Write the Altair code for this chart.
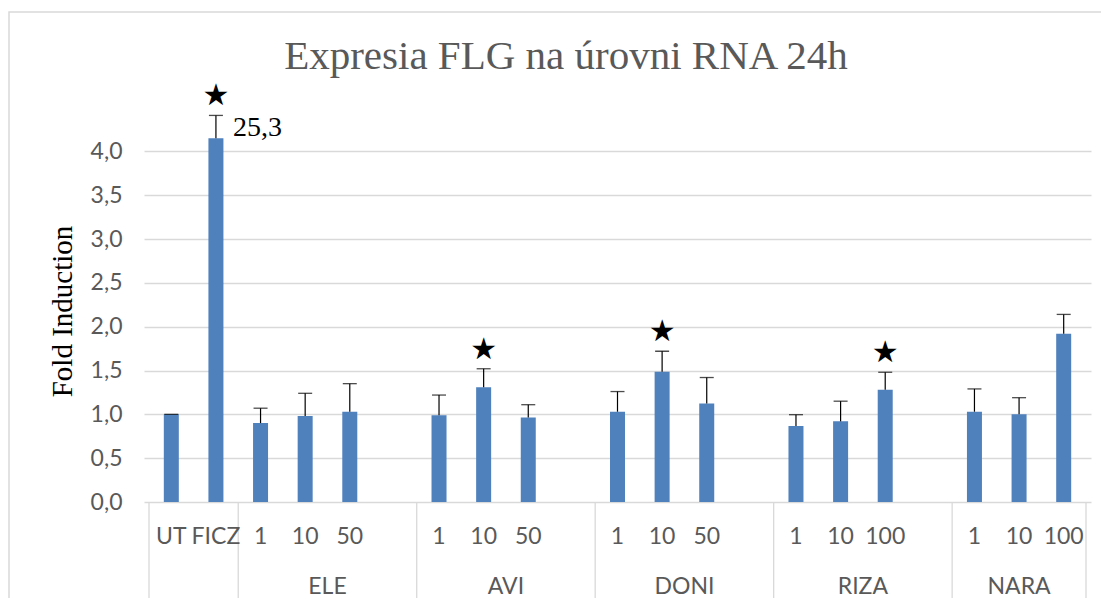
import altair as alt
import pandas as pd

# ---- data ----
title_text = "Expresia FLG na úrovni RNA 24h"
y_title = "Fold Induction"

controls = ["UT", "FICZ"]
control_means = [1.00, 4.15]
control_errs = [0.00, 0.26]

groups = ["ELE", "AVI", "DONI", "RIZA", "NARA"]
doses = [["1", "10", "50"], ["1", "10", "50"], ["1", "10", "50"],
         ["1", "10", "100"], ["1", "10", "100"]]
group_means = [[0.90, 0.98, 1.03], [0.99, 1.31, 0.965], [1.03, 1.485, 1.125],
               [0.866, 0.92, 1.28], [1.03, 1.00, 1.92]]
group_errs = [[0.17, 0.26, 0.32], [0.23, 0.21, 0.145], [0.23, 0.235, 0.295],
              [0.13, 0.23, 0.20], [0.26, 0.19, 0.22]]
# significance stars (label, group) pairs
stars = [("FICZ", ""), ("10", "AVI"), ("10", "DONI"), ("100", "RIZA")]
ficz_note = "25,3"
y_ticks = [0, 0.5, 1, 1.5, 2, 2.5, 3, 3.5, 4]

# ---- build tables (slot order follows the list order; one empty slot after each group) ----
rows = []
slot = 0
for lab, m, e in zip(controls, control_means, control_errs):
    rows.append(dict(slot=slot, label=lab, group="", mean=m, top=m + e))
    slot += 1
bounds = [-0.5, slot - 0.5]
glabels = []
for gi, (g, ds, ms, es) in enumerate(zip(groups, doses, group_means, group_errs)):
    start = slot - 0.5
    for d, m, e in zip(ds, ms, es):
        rows.append(dict(slot=slot, label=d, group=g, mean=m, top=m + e))
        slot += 1
    if gi < len(groups) - 1:
        slot += 1  # empty slot
    end = slot - 0.5
    bounds.append(end)
    glabels.append(dict(slot=(start + end) / 2, group=g))

df = pd.DataFrame(rows)
df["star"] = [(r.label, r.group) in stars for r in df.itertuples()]
df["note"] = [ficz_note if l == "FICZ" else "" for l in df["label"]]
xmax = slot - 0.5

W, H = 947, 412
YMAX = 4.7
BLUE = "#4F81BD"
GRID = "#d9d9d9"
GRAY = "#595959"

xs = alt.Scale(domain=[-0.5, xmax], nice=False, zero=False)
ys = alt.Scale(domain=[0, YMAX], nice=False)

yaxis = alt.Axis(
    values=y_ticks,
    labelExpr="replace(format(datum.value, '.1f'), '.', ',')",
    grid=True, gridColor=GRID, gridWidth=1.3,
    domain=False, ticks=False,
    labelFont="Lato", labelFontSize=23, labelColor=GRAY, labelPadding=22,
    title=y_title, titleFont="Liberation Serif", titleFontSize=29,
    titleFontWeight="normal", titleColor="black",
    titleX=-82, titleY=221, titleAlign="center", titleBaseline="middle", titleAngle=270,
)


def X(f="slot"):
    return alt.X(f"{f}:Q", scale=xs, axis=None)


def Y(f):
    return alt.Y(f"{f}:Q", scale=ys, axis=yaxis, title=y_title)


one = pd.DataFrame({"t": [title_text]})

border = alt.Chart(one).mark_rect(fillOpacity=0, stroke=GRID, strokeWidth=1.5).encode(
    x=alt.value(-135), x2=alt.value(W + 120), y=alt.value(-78), y2=alt.value(H + 130)
)

title = alt.Chart(one).mark_text(
    font="Liberation Serif", fontSize=41, color=GRAY, baseline="alphabetic", align="center"
).encode(x=alt.value(422), y=alt.value(-21), text="t:N")

bars = alt.Chart(df).mark_bar(width=15, color=BLUE).encode(x=X(), y=Y("mean"))

err = alt.Chart(df).mark_rule(color="black", strokeWidth=1.2).encode(
    x=X(), y=Y("mean"), y2="top:Q"
)
caps = alt.Chart(df).mark_tick(orient="horizontal", size=14, thickness=1.3, color="black").encode(
    x=X(), y=Y("top")
)
star_marks = alt.Chart(df[df["star"]]).mark_text(
    text="★", font="DejaVu Sans", fontSize=30, baseline="middle", dy=-19, color="black"
).encode(x=X(), y=Y("top"))
note = alt.Chart(df[df["note"] != ""]).mark_text(
    font="Liberation Serif", fontSize=28, align="left", baseline="middle", dx=17, dy=13, color="black"
).encode(x=X(), y=Y("top"), text="note:N")

bdf = pd.DataFrame({"b": bounds})
dividers = alt.Chart(bdf).mark_rule(color=GRID, strokeWidth=1.3).encode(
    x=X("b"), y=alt.value(H), y2=alt.value(H + 101)
)
row1 = alt.Chart(df).mark_text(font="Lato", fontSize=23, color=GRAY, baseline="middle").encode(
    x=X(), y=alt.value(H + 35), text="label:N"
)
row2 = alt.Chart(pd.DataFrame(glabels)).mark_text(
    font="Lato", fontSize=23, color=GRAY, baseline="middle"
).encode(x=X(), y=alt.value(H + 85), text="group:N")

chart = alt.layer(
    border, bars, dividers, err, caps, star_marks, note, row1, row2, title
).properties(
    width=W, height=H,
    padding={"left": 136, "top": 82, "right": 10, "bottom": 96},
    autosize=alt.AutoSizeParams(type="none"),
).configure_view(stroke=None)

chart.save("out.html", embed_options={"renderer": "svg", "actions": False})
